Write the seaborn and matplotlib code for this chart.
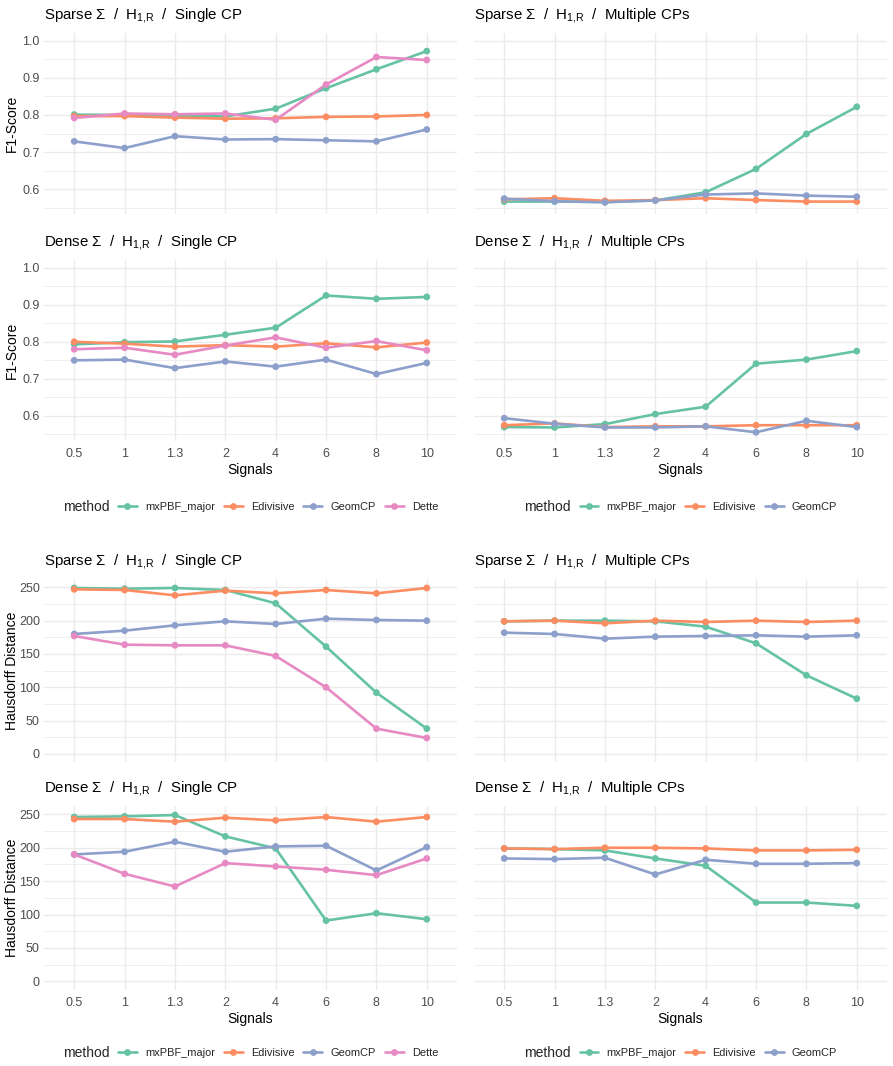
import matplotlib
matplotlib.use("Agg")
import matplotlib.pyplot as plt
import pandas as pd
import seaborn as sns
from matplotlib.lines import Line2D

# ---------------- data ----------------
signals = ["0.5", "1", "1.3", "2", "4", "6", "8", "10"]
methods_single = ["mxPBF_major", "Edivisive", "GeomCP", "Dette"]
methods_multi = ["mxPBF_major", "Edivisive", "GeomCP"]

# F1-Score, Sparse Sigma / Single CP
f1_ss_mxpbf = [0.801, 0.800, 0.798, 0.796, 0.817, 0.872, 0.923, 0.972]
f1_ss_edivisive = [0.797, 0.797, 0.793, 0.790, 0.791, 0.795, 0.796, 0.800]
f1_ss_geomcp = [0.729, 0.711, 0.743, 0.734, 0.735, 0.732, 0.729, 0.761]
f1_ss_dette = [0.792, 0.804, 0.802, 0.804, 0.787, 0.882, 0.956, 0.948]
# F1-Score, Sparse Sigma / Multiple CPs
f1_sm_mxpbf = [0.567, 0.567, 0.566, 0.570, 0.592, 0.655, 0.749, 0.822]
f1_sm_edivisive = [0.573, 0.576, 0.569, 0.571, 0.576, 0.571, 0.567, 0.567]
f1_sm_geomcp = [0.575, 0.568, 0.565, 0.570, 0.586, 0.589, 0.583, 0.580]
# F1-Score, Dense Sigma / Single CP
f1_ds_mxpbf = [0.793, 0.799, 0.801, 0.819, 0.838, 0.925, 0.916, 0.921]
f1_ds_edivisive = [0.800, 0.795, 0.787, 0.791, 0.787, 0.796, 0.785, 0.798]
f1_ds_geomcp = [0.750, 0.752, 0.729, 0.747, 0.733, 0.752, 0.713, 0.743]
f1_ds_dette = [0.780, 0.784, 0.765, 0.790, 0.812, 0.784, 0.802, 0.777]
# F1-Score, Dense Sigma / Multiple CPs
f1_dm_mxpbf = [0.570, 0.569, 0.578, 0.605, 0.625, 0.741, 0.752, 0.775]
f1_dm_edivisive = [0.575, 0.580, 0.570, 0.572, 0.572, 0.575, 0.575, 0.575]
f1_dm_geomcp = [0.594, 0.579, 0.569, 0.569, 0.572, 0.556, 0.587, 0.570]

# Hausdorff Distance, Sparse Sigma / Single CP
hd_ss_mxpbf = [249, 248, 249, 246, 226, 161, 92, 38]
hd_ss_edivisive = [247, 246, 238, 245, 241, 246, 241, 249]
hd_ss_geomcp = [180, 185, 193, 199, 195, 203, 201, 200]
hd_ss_dette = [177, 164, 163, 163, 147, 100, 38, 24]
# Hausdorff Distance, Sparse Sigma / Multiple CPs
hd_sm_mxpbf = [199, 200, 200, 199, 191, 166, 118, 83]
hd_sm_edivisive = [199, 200, 196, 200, 198, 200, 198, 200]
hd_sm_geomcp = [182, 180, 173, 176, 177, 178, 176, 178]
# Hausdorff Distance, Dense Sigma / Single CP
hd_ds_mxpbf = [246, 247, 249, 217, 199, 91, 102, 93]
hd_ds_edivisive = [243, 243, 239, 245, 241, 246, 239, 246]
hd_ds_geomcp = [190, 194, 209, 194, 202, 203, 166, 201]
hd_ds_dette = [190, 161, 142, 177, 172, 167, 159, 184]
# Hausdorff Distance, Dense Sigma / Multiple CPs
hd_dm_mxpbf = [199, 198, 196, 184, 173, 118, 118, 113]
hd_dm_edivisive = [199, 198, 200, 200, 199, 196, 196, 197]
hd_dm_geomcp = [184, 183, 185, 160, 182, 176, 176, 177]

f1_ticks = [0.6, 0.7, 0.8, 0.9, 1.0]
f1_tick_labels = ["0.6", "0.7", "0.8", "0.9", "1.0"]
hd_ticks = [0, 50, 100, 150, 200, 250]
hd_tick_labels = ["0", "50", "100", "150", "200", "250"]

# ---------------- style ----------------
sns.set_theme(style="white")
plt.rcParams["font.family"] = ["Liberation Sans", "DejaVu Sans"]
plt.rcParams["mathtext.fontset"] = "custom"
plt.rcParams["mathtext.rm"] = "Liberation Sans"
plt.rcParams["mathtext.default"] = "regular"

palette = dict(zip(methods_single, ["#66C2A5", "#FC8D62", "#8DA0CB", "#E78AC3"]))
GRID = "#EBEBEB"
TICKC = "#4D4D4D"
LW = 1.9
MS = 4.9

W, H = 893, 1066
fig = plt.figure(figsize=(W / 100, H / 100), dpi=100)
fig.patch.set_facecolor("white")

cols = {"L": (44, 457), "R": (474, 887)}
rows = [(32.5, 214.2), (259.5, 440.8), (579, 762.3), (806, 989.7)]


def make_df(series, methods):
    frames = []
    for m, vals in zip(methods, series):
        frames.append(pd.DataFrame({"Signals": signals, "value": vals, "method": m}))
    return pd.concat(frames, ignore_index=True)


def title_of(cov, cp):
    return f"{cov} \u03a3  /  H$_{{1{{,}}R}}$  /  {cp}"


panels = [
    (0, "L", make_df([f1_ss_mxpbf, f1_ss_edivisive, f1_ss_geomcp, f1_ss_dette], methods_single),
     methods_single, title_of("Sparse", "Single CP"), "f1", False),
    (0, "R", make_df([f1_sm_mxpbf, f1_sm_edivisive, f1_sm_geomcp], methods_multi),
     methods_multi, title_of("Sparse", "Multiple CPs"), "f1", False),
    (1, "L", make_df([f1_ds_mxpbf, f1_ds_edivisive, f1_ds_geomcp, f1_ds_dette], methods_single),
     methods_single, title_of("Dense", "Single CP"), "f1", True),
    (1, "R", make_df([f1_dm_mxpbf, f1_dm_edivisive, f1_dm_geomcp], methods_multi),
     methods_multi, title_of("Dense", "Multiple CPs"), "f1", True),
    (2, "L", make_df([hd_ss_mxpbf, hd_ss_edivisive, hd_ss_geomcp, hd_ss_dette], methods_single),
     methods_single, title_of("Sparse", "Single CP"), "hd", False),
    (2, "R", make_df([hd_sm_mxpbf, hd_sm_edivisive, hd_sm_geomcp], methods_multi),
     methods_multi, title_of("Sparse", "Multiple CPs"), "hd", False),
    (3, "L", make_df([hd_ds_mxpbf, hd_ds_edivisive, hd_ds_geomcp, hd_ds_dette], methods_single),
     methods_single, title_of("Dense", "Single CP"), "hd", True),
    (3, "R", make_df([hd_dm_mxpbf, hd_dm_edivisive, hd_dm_geomcp], methods_multi),
     methods_multi, title_of("Dense", "Multiple CPs"), "hd", True),
]

for r, c, df, methods, title, kind, show_x in panels:
    x0, x1 = cols[c]
    top, bot = rows[r]
    ax = fig.add_axes([x0 / W, 1 - bot / H, (x1 - x0) / W, (bot - top) / H])
    ax.set_facecolor("white")
    pal = [palette[m] for m in methods]
    sns.lineplot(data=df, x="Signals", y="value", hue="method", hue_order=methods,
                 palette=pal, sort=False, linewidth=LW, legend=False, ax=ax, zorder=3)
    sns.scatterplot(data=df, x="Signals", y="value", hue="method", hue_order=methods,
                    palette=pal, s=MS ** 2, linewidth=0, legend=False, ax=ax, zorder=4)
    ax.set_xlim(-0.6, len(signals) - 1 + 0.6)
    if kind == "f1":
        ax.set_ylim(0.533, 1.022)
        ax.set_yticks(f1_ticks)
        ax.set_yticklabels(f1_tick_labels)
        ax.set_yticks([0.55, 0.65, 0.75, 0.85, 0.95], minor=True)
        ylabel = "F1-Score"
    else:
        ax.set_ylim(-12.5, 262.5)
        ax.set_yticks(hd_ticks)
        ax.set_yticklabels(hd_tick_labels)
        ax.set_yticks([25, 75, 125, 175, 225], minor=True)
        ylabel = "Hausdorff Distance"
    ax.grid(True, which="major", axis="both", color=GRID, linewidth=1.0, zorder=0)
    ax.grid(True, which="minor", axis="y", color=GRID, linewidth=0.55, zorder=0)
    ax.set_axisbelow(True)
    for s in ax.spines.values():
        s.set_visible(False)
    ax.tick_params(axis="both", which="both", length=0, labelsize=9, labelcolor=TICKC)
    ax.tick_params(axis="x", pad=5.5)
    ax.tick_params(axis="y", pad=3)
    if c == "L":
        ax.set_ylabel(ylabel, fontsize=10, color="black")
        ax.yaxis.set_label_coords(-0.06, 0.5)
    else:
        ax.set_ylabel("")
        ax.set_yticklabels([])
    if show_x:
        ax.set_xlabel("Signals", fontsize=10, color="black", labelpad=2)
    else:
        ax.set_xlabel("")
        ax.set_xticklabels([])
    ax.set_title(title, loc="left", pad=10, fontsize=10.8, color="black")


def add_legend(methods, x_title, x_handles, y):
    handles = [Line2D([0], [0], color=palette[m], linewidth=LW, marker="o",
                      markersize=MS, markeredgewidth=0) for m in methods]
    fig.text(x_title / W, 1 - y / H, "method", fontsize=10, va="center", ha="left")
    fig.legend(handles, methods, loc="center left",
               bbox_to_anchor=(x_handles / W, 1 - y / H), ncol=len(methods),
               frameon=False, fontsize=7.9, handlelength=1.73, handletextpad=0.73,
               columnspacing=0.82, borderpad=0, borderaxespad=0)


for y in (506.7, 1053.3):
    add_legend(methods_single, 63, 118, y)
    add_legend(methods_multi, 524.3, 579.5, y)

fig.savefig("out.png", dpi=100, facecolor="white")
